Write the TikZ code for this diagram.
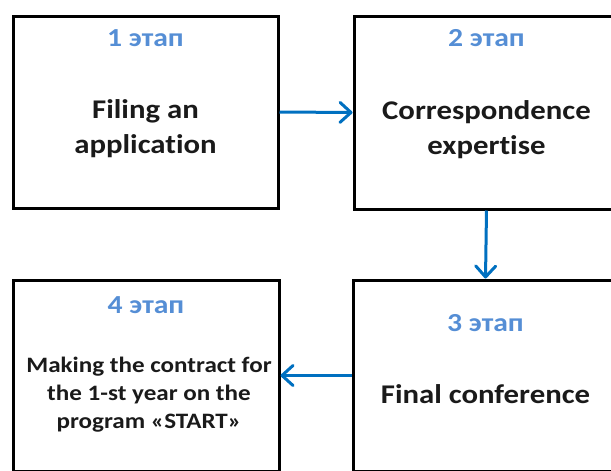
\documentclass[tikz,border=0pt]{standalone}
\usepackage{fontspec}
\setmainfont{Carlito}[FakeStretch=1.14, Ligatures=NoCommon]
\usetikzlibrary{arrows.meta}
\definecolor{stagecol}{HTML}{558ED5}
\definecolor{flowcol}{HTML}{0070C0}
\definecolor{inkcol}{HTML}{1A1A1A}
\begin{document}
\begin{tikzpicture}[x=1pt,y=-1pt,
  stagebox/.style={draw=black, line width=3pt, inner sep=0pt},
  stagelabel/.style={text=stagecol, font=\fontsize{26}{30}\selectfont\bfseries, anchor=base, inner sep=0pt},
  stagetext/.style={text=inkcol, font=\fontsize{27}{35}\selectfont\bfseries, align=center, inner sep=0pt},
  smalltext/.style={text=inkcol, font=\fontsize{22}{28}\selectfont\bfseries, align=center, inner sep=0pt},
  flow/.style={draw=flowcol, line width=3pt, -{Straight Barb[length=11pt,width=20pt,round]}}]
\useasboundingbox (0,0) rectangle (611,471);
\clip (0,0) rectangle (611,471);

% stage frames
\node[stagebox, minimum width=265pt, minimum height=192pt] (b1) at (145.5,112) {};
\node[stagebox, minimum width=265pt, minimum height=193pt] (b2) at (486.5,112.5) {};
\node[stagebox, minimum width=265pt, minimum height=191pt] (b3) at (485.5,375.5) {};
\node[stagebox, minimum width=266pt, minimum height=191pt] (b4) at (146,375.5) {};

% stage numbers
\node[stagelabel] (l1) at (145.5,46) {1 этап};
\node[stagelabel] (l2) at (486.5,46) {2 этап};
\node[stagelabel] (l3) at (485.5,331) {3 этап};
\node[stagelabel] (l4) at (146,313) {4 этап};

% stage descriptions
\node[stagetext] (t1) at (145.5,129) {Filing an\\application};
\node[stagetext] (t2) at (486.5,130) {Correspondence\\expertise};
\node[stagetext] (t3) at (485.5,394) {Final conference};
\node[smalltext] (t4) at (149,395) {Making the contract for\\the 1-st year on the\\program «START»};

% flow between stages
\draw[flow] (b1.east) -- (b2.west);
\draw[flow] (b2.south) -- (b3.north);
\draw[flow] (b3.west) -- (b4.east);
\end{tikzpicture}
\end{document}
